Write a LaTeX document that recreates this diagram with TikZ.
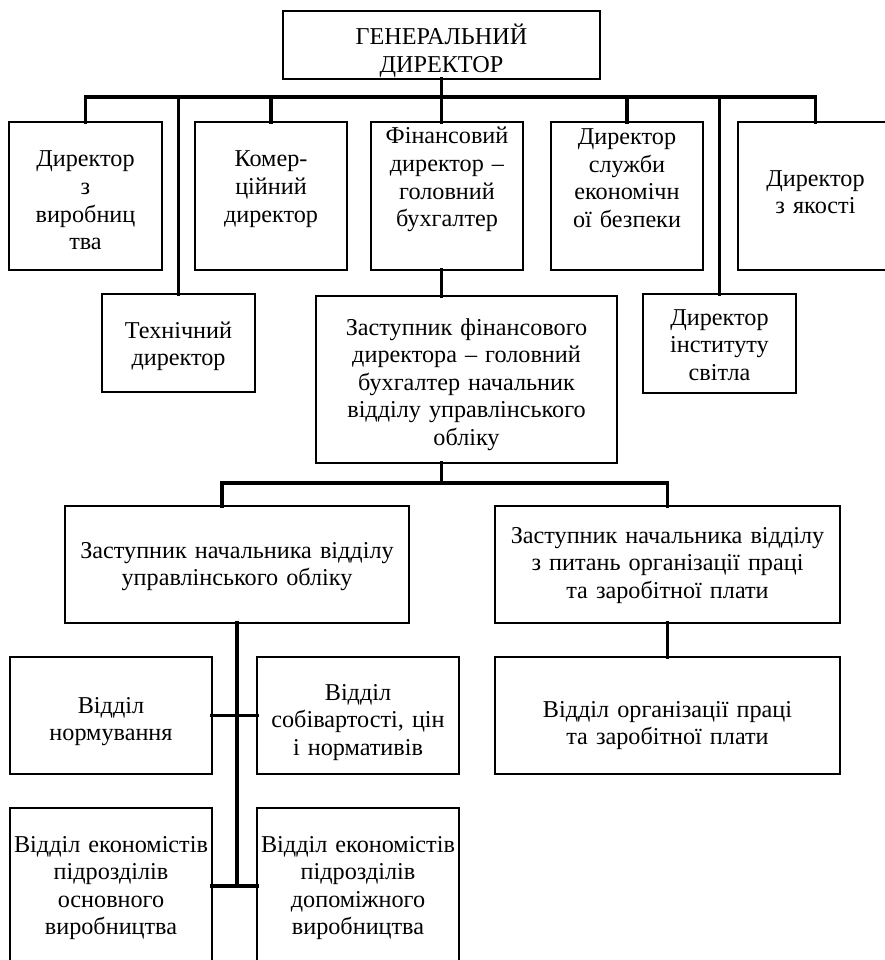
\documentclass[tikz,border=0pt]{standalone}
\usepackage{fontspec}
\setmainfont{Liberation Serif}
\usetikzlibrary{calc}
\tikzset{
    box/.style={
        rectangle, draw=black, line width=1.6pt, inner sep=0pt, outer sep=0pt,
        anchor=north west, align=center,
        font=\fontsize{24.2}{27.5}\selectfont
    },
    conn/.style={
        line width=3.8pt, color=black, line cap=rect
    }
}

\begin{document}
\begin{tikzpicture}[x=1pt, y=-1pt]
    \useasboundingbox (0,0) rectangle (885,960);

    % TOP
    \node[box, text width=317pt, text height=34pt, text depth=34pt] (gen) at (283,11) {ГЕНЕРАЛЬНИЙ\\ДИРЕКТОР};

    % FIRST ROW
    \node[box, text width=153pt, text height=45pt, text depth=103pt] (vyr) at (9,122) {Директор\\з\\виробниц\\тва};
    \node[box, text width=152pt, text height=45pt, text depth=103pt] (kom) at (195,122) {Комер-\\ційний\\директор};
    \node[box, text width=152pt, text height=22pt, text depth=126pt] (fin) at (371,122) {Фінансовий\\директор –\\головний\\бухгалтер};
    \node[box, text width=152pt, text height=23pt, text depth=125pt] (sl) at (551,122) {Директор\\служби\\економічн\\ої безпеки};
    \node[box, text width=155pt, text height=64pt, text depth=84pt] (yak) at (738,122) {Директор\\з якості};

    % SECOND ROW
    \node[box, text width=153pt, text height=44pt, text depth=54pt] (tekh) at (102,294) {Технічний\\директор};
    \node[box, text width=301pt, text height=39pt, text depth=128pt] (zastfin) at (316,296) {Заступник фінансового\\директора – головний\\бухгалтер начальник\\відділу управлінського\\обліку};
    \node[box, text width=153pt, text height=31pt, text depth=68pt] (inst) at (643,294) {Директор\\інституту\\світла};

    % DEPUTIES
    \node[box, text width=344pt, text height=52pt, text depth=65pt] (zastupr) at (65,506) {Заступник начальника відділу\\управлінського обліку};
    \node[box, text width=345pt, text height=37pt, text depth=80pt] (zastprac) at (495,506) {Заступник начальника відділу\\з питань організації праці\\та заробітної плати};

    % DEPARTMENTS
    \node[box, text width=202pt, text height=56pt, text depth=61pt] (norm) at (10,657) {Відділ\\нормування};
    \node[box, text width=202pt, text height=43pt, text depth=74pt] (sobiv) at (257,657) {Відділ\\собівартості, цін\\і нормативів};
    \node[box, text width=345pt, text height=60pt, text depth=57pt] (orgprac) at (495,657) {Відділ організації праці\\та заробітної плати};
    \node[box, text width=202pt, text height=44pt, text depth=112pt] (ekon1) at (10,808) {Відділ економістів\\підрозділів\\основного\\виробництва};
    \node[box, text width=202pt, text height=44pt, text depth=112pt] (ekon2) at (257,808) {Відділ економістів\\підрозділів\\допоміжного\\виробництва};

    % connectors
    \coordinate (bus) at (0,97);
    \coordinate (bus2) at (0,483);
    \draw[conn] (gen.south) -- (gen.south |- fin.north);
    \draw[conn] (vyr.north |- bus) -- (yak.north |- bus);
    \foreach \n in {vyr,tekh,kom,sl,inst,yak}
        \draw[conn] (\n.north |- bus) -- (\n.north);
    \draw[conn] (gen.south |- fin.south) -- (gen.south |- zastfin.north);
    \draw[conn] (gen.south |- zastfin.south) -- (gen.south |- bus2);
    \draw[conn] ([xshift=-15pt]zastupr.north) |- (bus2 -| zastprac.north) -- (zastprac.north);
    \draw[conn] (zastupr.south) -- (zastupr.south |- ekon1.east);
    \draw[conn] (norm.east) -- (sobiv.west);
    \draw[conn] (ekon1.east) -- (ekon2.west);
    \draw[conn] (zastprac.south) -- (orgprac.north);

\end{tikzpicture}
\end{document}
